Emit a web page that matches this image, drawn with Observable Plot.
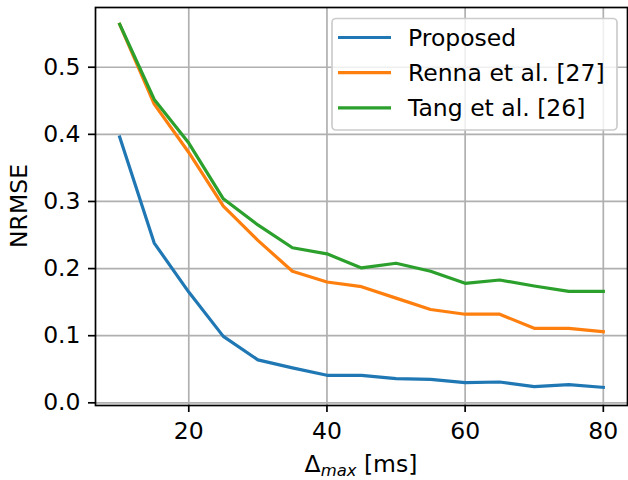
<!DOCTYPE html>
<html>
<head>
<meta charset="utf-8">
<script src="https://cdn.jsdelivr.net/npm/d3@7"></script>
<script src="https://cdn.jsdelivr.net/npm/@observablehq/plot@0.6"></script>
<style>
  html, body { margin: 0; padding: 0; background: #fff; }
  svg { font-family: "DejaVu Sans", sans-serif; }
  svg g[aria-label="x-axis tick label"] text,
  svg g[aria-label="y-axis tick label"] text { font-size: 23.5px !important; fill: #000; }
  svg text.ann { font-size: 23.5px; fill: #000; }
</style>
</head>
<body>
<div id="chart"></div>
<script>
const deltaMax = [10, 15, 20, 25, 30, 35, 40, 45, 50, 55, 60, 65, 70, 75, 80];
const proposed = [0.396, 0.238, 0.165, 0.099, 0.064, 0.052, 0.041, 0.041, 0.036, 0.035, 0.030, 0.031, 0.024, 0.027, 0.023];
const renna    = [0.564, 0.445, 0.373, 0.293, 0.242, 0.196, 0.180, 0.173, 0.156, 0.139, 0.132, 0.132, 0.111, 0.111, 0.106];
const tang     = [0.564, 0.452, 0.387, 0.304, 0.265, 0.231, 0.222, 0.201, 0.208, 0.196, 0.178, 0.183, 0.174, 0.166, 0.166];
const seriesNames = ["Proposed", "Renna et al. [27]", "Tang et al. [26]"];
const seriesColors = ["#1f77b4", "#ff7f0e", "#2ca02c"];
const xTicks = [20, 40, 60, 80];
const yTicks = [0.0, 0.1, 0.2, 0.3, 0.4, 0.5];

const seriesValues = [proposed, renna, tang];
const rows = [];
seriesNames.forEach((name, i) => {
  deltaMax.forEach((x, j) => rows.push({x, y: seriesValues[i][j], series: name}));
});

const W = 628, H = 480;
const mL = 95, mR = 1, mT = 7, mB = 75;
const FS = 23.5;

const chart = Plot.plot({
  width: W, height: H,
  marginLeft: mL, marginRight: mR, marginTop: mT, marginBottom: mB,
  style: {fontFamily: "DejaVu Sans, sans-serif", color: "#000", background: "#fff", overflow: "visible"},
  x: {domain: [6.5, 83.5]},
  y: {domain: [-0.004, 0.589]},
  color: {domain: seriesNames, range: seriesColors},
  marks: [
    Plot.gridX(xTicks, {stroke: "#b0b0b0", strokeOpacity: 1, strokeWidth: 1.7}),
    Plot.gridY(yTicks, {stroke: "#b0b0b0", strokeOpacity: 1, strokeWidth: 1.7}),
    Plot.line(rows, {x: "x", y: "y", stroke: "series", z: "series", strokeWidth: 3.2, strokeLinejoin: "round", strokeLinecap: "square"}),
    Plot.frame({stroke: "#000", strokeWidth: 1.7}),
    Plot.axisX({ticks: xTicks, tickSize: 7, tickPadding: 10, strokeWidth: 1.7, label: null, tickFormat: d => String(d)}),
    Plot.axisY({ticks: yTicks, tickSize: 7, tickPadding: 8, strokeWidth: 1.7, label: null, tickFormat: d => d.toFixed(1)})
  ]
});

document.getElementById("chart").appendChild(chart);

const svg = d3.select(chart);
const plotCx = mL + (W - mL - mR) / 2;
const plotCy = mT + (H - mT - mB) / 2;

// x label with subscript
const xl = svg.append("text").attr("class", "ann")
  .attr("x", plotCx).attr("y", 472)
  .attr("text-anchor", "middle");
xl.append("tspan").text("Δ");
xl.append("tspan").attr("font-style", "italic").style("font-size", (FS * 0.7) + "px").attr("dy", 4).text("max");
xl.append("tspan").attr("dy", -4).text(" [ms]");

// y label
svg.append("text").attr("class", "ann")
  .attr("transform", `translate(27,${plotCy}) rotate(-90)`)
  .attr("text-anchor", "middle")
  .text("NRMSE");

// legend
const lg = svg.append("g");
lg.append("rect")
  .attr("x", 332).attr("y", 18.5).attr("width", 285).attr("height", 111.5)
  .attr("rx", 4).attr("fill", "#fff").attr("fill-opacity", 0.8)
  .attr("stroke", "#cccccc").attr("stroke-width", 1.7);
seriesNames.forEach((name, i) => {
  const y = 37.5 + i * 35.2;
  lg.append("line").attr("x1", 338).attr("x2", 391).attr("y1", y).attr("y2", y)
    .attr("stroke", seriesColors[i]).attr("stroke-width", 3.2);
  lg.append("text").attr("class", "ann").attr("x", 408).attr("y", y).attr("dy", "0.36em")
    .attr("text-anchor", "start").text(name);
});
</script>
</body>
</html>
